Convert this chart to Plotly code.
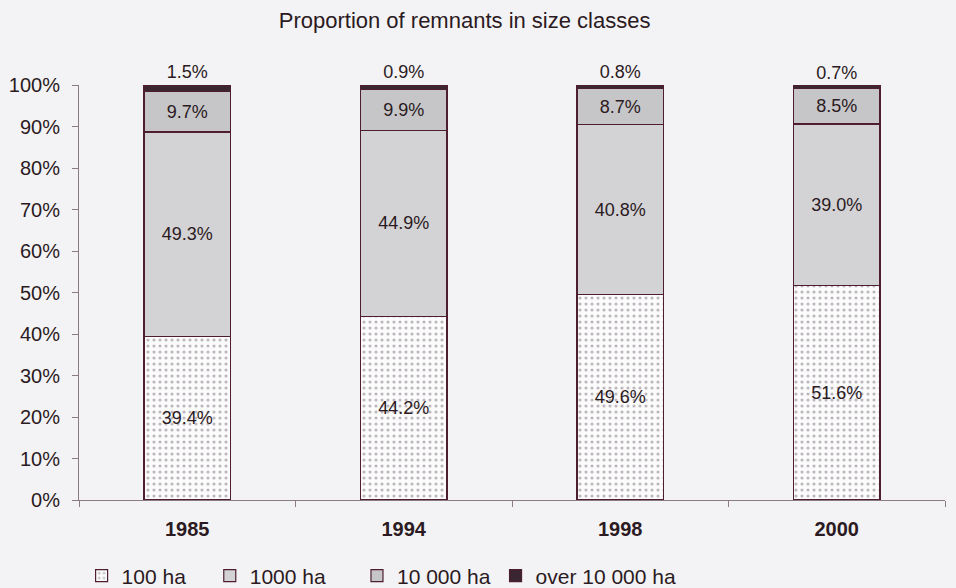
import plotly.graph_objects as go

years = ["1985", "1994", "1998", "2000"]
ha100 = [39.4, 44.2, 49.6, 51.6]
ha1000 = [49.3, 44.9, 40.8, 39.0]
ha10000 = [9.7, 9.9, 8.7, 8.5]
over10000 = [1.5, 0.9, 0.8, 0.7]
series_names = ["100 ha", "1000 ha", "10 000 ha", "over 10 000 ha"]
y_ticks = [0, 10, 20, 30, 40, 50, 60, 70, 80, 90, 100]
y_tick_labels = [f"{v}%" for v in y_ticks]

edge = "#4e1e2e"
txt = "#2b1a22"
bg = "#f3f3f5"
font = "Liberation Sans, Arial, sans-serif"
fs_in = 18
fs_ax = 20

fig = go.Figure()
fig.add_trace(go.Bar(
    x=years, y=ha100, name=series_names[0], legend="legend",
    marker=dict(color="#ffffff", line=dict(color=edge, width=1.2),
                pattern=dict(shape=".", fgcolor="#7e7480", bgcolor="#fbfbfb", size=6, solidity=0.22)),
    text=[f"{v:.1f}%" for v in ha100], textposition="inside", insidetextanchor="middle",
    textfont=dict(color=txt, size=fs_in), width=0.4))
fig.add_trace(go.Bar(
    x=years, y=ha1000, name=series_names[1], legend="legend2",
    marker=dict(color="#d3d3d5", line=dict(color=edge, width=1.2)),
    text=[f"{v:.1f}%" for v in ha1000], textposition="inside", insidetextanchor="middle",
    textfont=dict(color=txt, size=fs_in), width=0.4))
fig.add_trace(go.Bar(
    x=years, y=ha10000, name=series_names[2], legend="legend3",
    marker=dict(color="#c6c6c8", line=dict(color=edge, width=1.2)),
    text=[f"{v:.1f}%" for v in ha10000], textposition="inside", insidetextanchor="middle",
    textfont=dict(color=txt, size=fs_in), width=0.4))
fig.add_trace(go.Bar(
    x=years, y=over10000, name=series_names[3], legend="legend4",
    marker=dict(color="#3a2530", line=dict(color=edge, width=1.2)),
    text=[f"{v:.1f}%" for v in over10000], textposition="outside",
    textfont=dict(color=txt, size=fs_in), width=0.4, cliponaxis=False))

def leg(x):
    return dict(orientation="h", x=x, y=-0.183, xanchor="left", yanchor="middle",
                font=dict(size=21, color=txt), itemwidth=30,
                bgcolor="rgba(0,0,0,0)")

fig.update_layout(
    barmode="stack",
    width=956, height=588,
    paper_bgcolor=bg, plot_bgcolor=bg,
    margin=dict(l=79, r=11, t=85, b=88, autoexpand=False),
    font=dict(family=font, color=txt, size=fs_ax),
    title=dict(text="Proportion of remnants in size classes", x=0.486, xanchor="center",
               y=0.966, yanchor="middle", font=dict(size=22, color=txt)),
    uniformtext=dict(minsize=fs_in, mode="show"),
    legend=leg(0.003), legend2=leg(0.151), legend3=leg(0.321), legend4=leg(0.481),
    showlegend=True,
)
fig.update_xaxes(showline=True, linecolor="#8a7a82", linewidth=1, ticks="outside",
                 tickson="boundaries", ticklen=6, tickcolor="#8a7a82",
                 tickfont=dict(size=fs_ax, color=txt, family=font, weight="bold"),
                 ticklabelstandoff=11, showgrid=False)
fig.update_yaxes(range=[0, 100], tickvals=y_ticks, ticktext=y_tick_labels,
                 showline=True, linecolor="#8a7a82", linewidth=1, ticks="outside",
                 ticklen=6, tickcolor="#8a7a82", showgrid=False, zeroline=False,
                 ticklabelstandoff=8, tickfont=dict(size=fs_ax, color=txt))

fig.write_html("out.html", config={"displayModeBar": False},
               post_script="document.body.style.margin='0';document.body.style.background='#f3f3f5';")
